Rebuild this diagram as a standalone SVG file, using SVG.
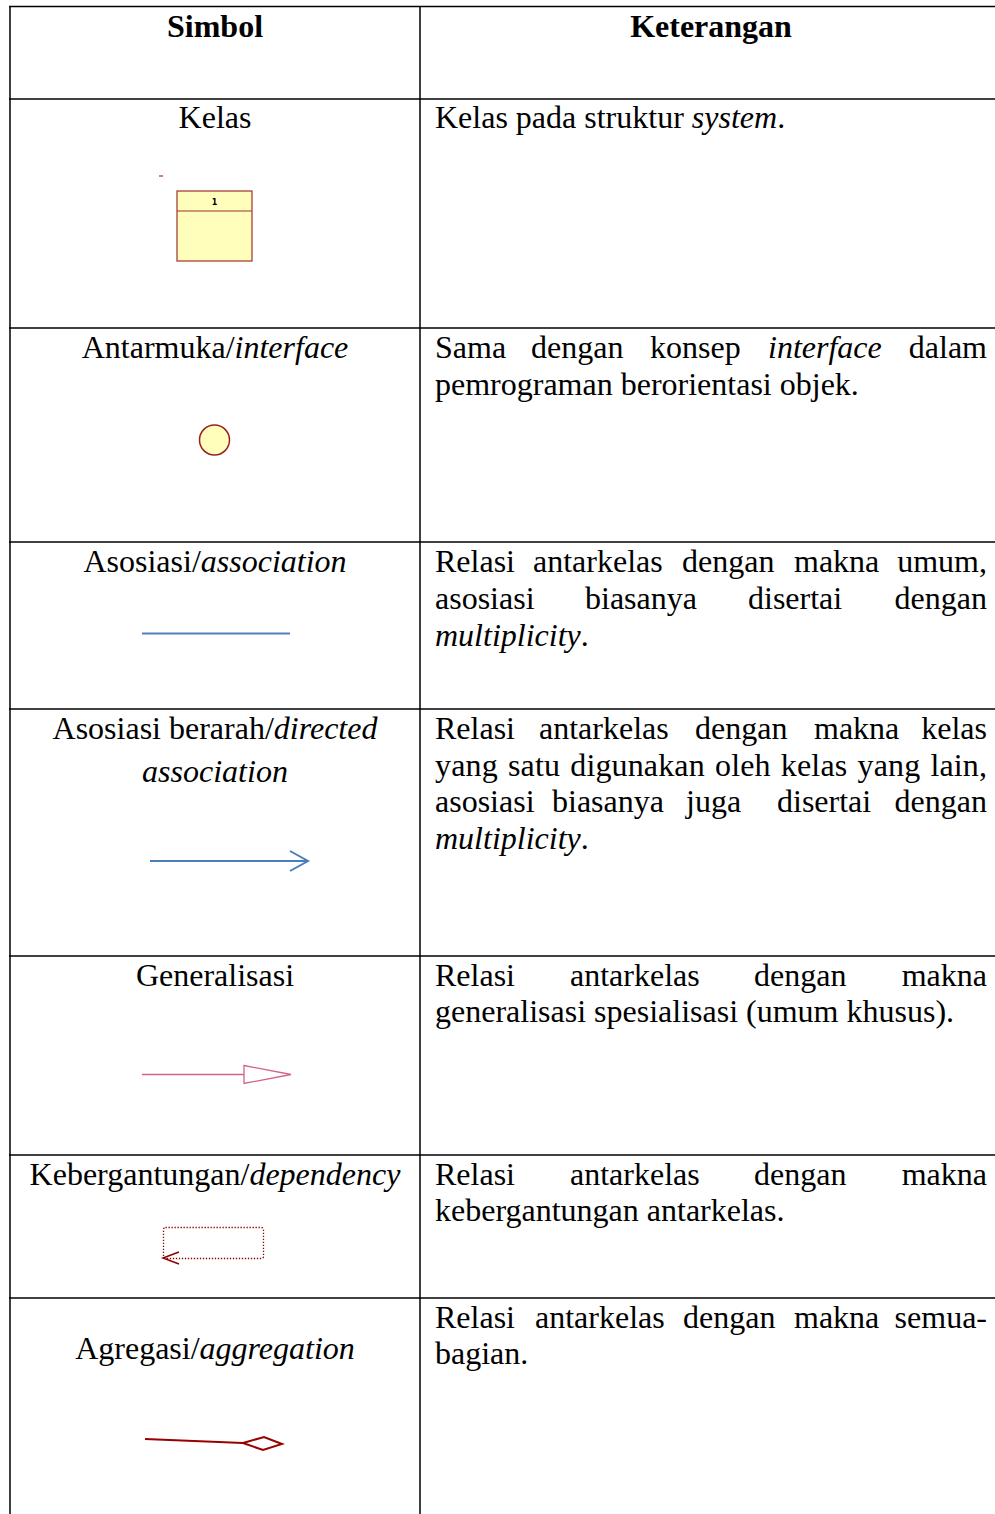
<svg xmlns="http://www.w3.org/2000/svg" width="995" height="1514" viewBox="0 0 995 1514">
<style>
text{font-family:"Liberation Serif","Times New Roman",serif;font-size:32px;fill:#000}
.h{font-weight:bold;text-anchor:middle}
.c{text-anchor:middle}
.e{text-anchor:end}
.i{font-style:italic}
.grid{stroke:#000;stroke-width:1.5;fill:none}
</style>
<rect width="995" height="1514" fill="#fff"/>
<g id="table">
<line class="grid" x1="9" y1="6.5" x2="995" y2="6.5" stroke-width="2.5"/>
<line class="grid" x1="10" y1="6" x2="10" y2="1514"/>
<line class="grid" x1="420" y1="6" x2="420" y2="1514"/>
<line class="grid" x1="9" y1="99" x2="995" y2="99"/>
<line class="grid" x1="9" y1="328" x2="995" y2="328"/>
<line class="grid" x1="9" y1="542" x2="995" y2="542"/>
<line class="grid" x1="9" y1="709" x2="995" y2="709"/>
<line class="grid" x1="9" y1="956" x2="995" y2="956"/>
<line class="grid" x1="9" y1="1155" x2="995" y2="1155"/>
<line class="grid" x1="9" y1="1298" x2="995" y2="1298"/>
</g>
<g id="header">
<text class="h" x="215" y="37">Simbol</text>
<text class="h" x="711" y="37">Keterangan</text>
</g>
<g id="row-kelas">
<text class="c" x="215" y="128">Kelas</text>
<text x="435" y="128">Kelas pada struktur <tspan class="i">system</tspan>.</text>
<line x1="159" y1="176" x2="163" y2="176" stroke="#990000" stroke-width="1"/>
<rect x="177" y="191" width="75" height="70" fill="#FFFFBB" stroke="#A03030" stroke-width="1.2"/>
<line x1="177" y1="211" x2="252" y2="211" stroke="#A03030" stroke-width="1.2"/>
<text x="214.5" y="205" style="font-family:'DejaVu Sans',sans-serif;font-size:8px;font-weight:bold;text-anchor:middle">1</text>
</g>
<g id="row-interface">
<text class="c" x="215" y="358">Antarmuka/<tspan class="i">interface</tspan></text>
<text y="358"><tspan x="435">Sama</tspan><tspan x="531">dengan</tspan><tspan x="650">konsep</tspan><tspan x="768" class="i">interface</tspan></text>
<text class="e" x="987" y="358">dalam</text>
<text x="435" y="395">pemrograman berorientasi objek.</text>
<circle cx="214.5" cy="440" r="15" fill="#FFFFBB" stroke="#9B2020" stroke-width="1.5"/>
</g>
<g id="row-asosiasi">
<text class="c" x="215" y="572">Asosiasi/<tspan class="i">association</tspan></text>
<text y="572"><tspan x="435">Relasi</tspan><tspan x="533">antarkelas</tspan><tspan x="682">dengan</tspan><tspan x="794">makna</tspan></text>
<text class="e" x="987" y="572">umum,</text>
<text y="609"><tspan x="435">asosiasi</tspan><tspan x="585">biasanya</tspan><tspan x="748">disertai</tspan></text>
<text class="e" x="987" y="609">dengan</text>
<text x="435" y="646"><tspan class="i">multiplicity</tspan>.</text>
</g>
<g id="row-directed">
<text class="c" x="215" y="739">Asosiasi berarah/<tspan class="i">directed</tspan></text>
<text class="c i" x="215" y="782">association</text>
<text y="739"><tspan x="435">Relasi</tspan><tspan x="539">antarkelas</tspan><tspan x="695">dengan</tspan><tspan x="814">makna</tspan></text>
<text class="e" x="987" y="739">kelas</text>
<text x="435" y="776" textLength="552" lengthAdjust="spacing" style="word-spacing:2px">yang satu digunakan oleh kelas yang lain,</text>
<text y="812"><tspan x="435">asosiasi</tspan><tspan x="552">biasanya</tspan><tspan x="686">juga</tspan><tspan x="777">disertai</tspan></text>
<text class="e" x="987" y="812">dengan</text>
<text x="435" y="849"><tspan class="i">multiplicity</tspan>.</text>
</g>
<g id="row-generalisasi">
<text class="c" x="215" y="986">Generalisasi</text>
<text y="986"><tspan x="435">Relasi</tspan><tspan x="570">antarkelas</tspan><tspan x="754">dengan</tspan></text>
<text class="e" x="987" y="986">makna</text>
<text x="435" y="1022">generalisasi spesialisasi (umum khusus).</text>
</g>
<g id="row-dependency">
<text class="c" x="215" y="1185">Kebergantungan/<tspan class="i">dependency</tspan></text>
<text y="1185"><tspan x="435">Relasi</tspan><tspan x="570">antarkelas</tspan><tspan x="754">dengan</tspan></text>
<text class="e" x="987" y="1185">makna</text>
<text x="435" y="1221">kebergantungan antarkelas.</text>
</g>
<g id="row-aggregation">
<text class="c" x="215" y="1359">Agregasi/<tspan class="i">aggregation</tspan></text>
<text y="1328"><tspan x="435">Relasi</tspan><tspan x="535">antarkelas</tspan><tspan x="683">dengan</tspan><tspan x="794">makna</tspan></text>
<text class="e" x="987" y="1328">semua-</text>
<text x="435" y="1364">bagian.</text>
</g>
<g id="connectors">
<line x1="142" y1="633.5" x2="290" y2="633.5" stroke="#4F81BD" stroke-width="2"/>
<line x1="150" y1="861" x2="307" y2="861" stroke="#4A7EBB" stroke-width="2"/>
<polyline points="290,851 308,861 290,871" fill="none" stroke="#4A7EBB" stroke-width="2"/>
<line x1="142" y1="1074.5" x2="244" y2="1074.5" stroke="#D0648A" stroke-width="1.3"/>
<polygon points="244,1065.5 291,1074.5 244,1083.5" fill="#fff" stroke="#D0648A" stroke-width="1.3"/>
<rect x="163.5" y="1227.5" width="100" height="31" rx="2" fill="none" stroke="#8B0000" stroke-width="1.3" stroke-dasharray="1.3 1.7"/>
<polyline points="179,1252 163,1258 179,1264" fill="none" stroke="#8B0000" stroke-width="1.5"/>
<line x1="145" y1="1439" x2="243" y2="1443" stroke="#990000" stroke-width="2"/>
<polygon points="243,1443 264,1437 282,1444 263,1450" fill="#fff" stroke="#990000" stroke-width="2"/>
</g>
</svg>
